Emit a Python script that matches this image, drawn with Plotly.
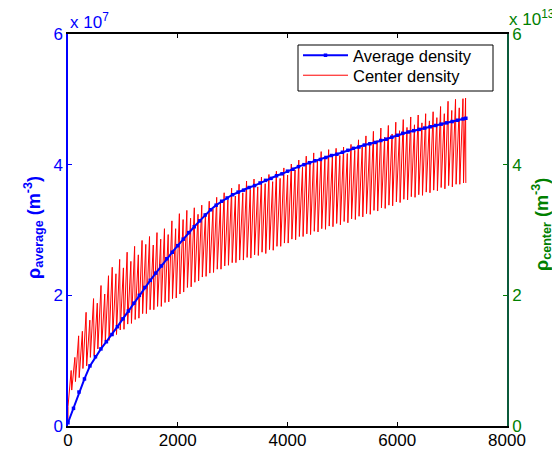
import numpy as np
import plotly.graph_objects as go

# ---------------- data ----------------
avg_t = [0, 100, 200, 300, 400, 500, 600, 700, 800, 900,
         1000, 1100, 1200, 1300, 1400, 1500, 1600, 1700, 1800, 1900,
         2000, 2100, 2200, 2300, 2400, 2500, 2600, 2700, 2800, 2900,
         3000, 3100, 3200, 3300, 3400, 3500, 3600, 3700, 3800, 3900,
         4000, 4100, 4200, 4300, 4400, 4500, 4600, 4700, 4800, 4900,
         5000, 5100, 5200, 5300, 5400, 5500, 5600, 5700, 5800, 5900,
         6000, 6100, 6200, 6300, 6400, 6500, 6600, 6700, 6800, 6900,
         7000, 7100, 7200, 7250]
avg_val = [0.05, 0.27, 0.52, 0.72, 0.92, 1.06, 1.18, 1.29, 1.40, 1.52,
           1.64, 1.76, 1.88, 2.00, 2.12, 2.23, 2.34, 2.45, 2.56, 2.66,
           2.76, 2.86, 2.96, 3.05, 3.14, 3.23, 3.31, 3.38, 3.44, 3.49,
           3.54, 3.58, 3.61, 3.65, 3.68, 3.72, 3.76, 3.79, 3.83, 3.86,
           3.90, 3.93, 3.97, 4.00, 4.03, 4.06, 4.08, 4.11, 4.14, 4.16,
           4.19, 4.22, 4.25, 4.27, 4.30, 4.32, 4.34, 4.37, 4.39, 4.42,
           4.45, 4.48, 4.50, 4.52, 4.54, 4.56, 4.58, 4.60, 4.62, 4.64,
           4.66, 4.68, 4.70, 4.71]          # x 1e7 m^-3

cycle_period = 68
center_peaks = [0.85, 1.05, 1.38, 1.45, 1.74, 1.62, 1.95, 1.88, 2.15, 2.02,
                2.30, 2.43, 2.33, 2.55, 2.42, 2.66, 2.52, 2.75, 2.62, 2.84,
                2.78, 2.90, 2.77, 2.96, 2.86, 3.02, 2.93, 3.14, 3.02, 3.25,
                3.16, 3.30, 3.18, 3.34, 3.24, 3.38, 3.26, 3.44, 3.32, 3.50,
                3.42, 3.57, 3.46, 3.64, 3.52, 3.70, 3.57, 3.75, 3.62, 3.78,
                3.66, 3.81, 3.71, 3.85, 3.74, 3.90, 3.79, 3.95, 3.84, 4.01,
                3.92, 4.07, 3.96, 4.13, 4.02, 4.18, 4.06, 4.20, 4.10, 4.23,
                4.12, 4.25, 4.14, 4.27, 4.17, 4.31, 4.22, 4.38, 4.27, 4.44,
                4.32, 4.51, 4.37, 4.56, 4.42, 4.60, 4.47, 4.65, 4.52, 4.69,
                4.57, 4.73, 4.61, 4.76, 4.64, 4.78, 4.67, 4.81, 4.72, 4.89,
                4.78, 4.97, 4.83, 5.00, 4.87, 5.01, 5.02]   # x 1e13 m^-3
center_troughs = [0.30, 0.55, 0.68, 0.74, 0.88, 0.92, 1.05, 1.08, 1.18, 1.20,
                  1.28, 1.31, 1.38, 1.40, 1.47, 1.48, 1.56, 1.57, 1.63, 1.65,
                  1.72, 1.72, 1.78, 1.78, 1.83, 1.83, 1.89, 1.90, 1.95, 1.96,
                  2.02, 2.05, 2.12, 2.13, 2.20, 2.22, 2.28, 2.29, 2.34, 2.35,
                  2.40, 2.40, 2.45, 2.46, 2.50, 2.50, 2.54, 2.54, 2.58, 2.57,
                  2.62, 2.61, 2.66, 2.64, 2.70, 2.69, 2.75, 2.75, 2.80, 2.80,
                  2.86, 2.85, 2.90, 2.90, 2.94, 2.93, 2.98, 2.97, 3.02, 3.01,
                  3.06, 3.05, 3.10, 3.08, 3.13, 3.11, 3.17, 3.16, 3.21, 3.20,
                  3.25, 3.24, 3.30, 3.29, 3.34, 3.33, 3.38, 3.37, 3.43, 3.42,
                  3.47, 3.46, 3.51, 3.50, 3.54, 3.53, 3.58, 3.57, 3.61, 3.60,
                  3.65, 3.63, 3.68, 3.66, 3.70, 3.70, 3.72]
center_end = (7250, 3.72)

x_ticks = [0, 2000, 4000, 6000, 8000]
y_ticks = [0, 2, 4, 6]

# ---------------- build series ----------------
avg_y = [v * 1e7 for v in avg_val]

cx, cy = [0], [0.05e13]
for i, (tr, pk) in enumerate(zip(center_troughs, center_peaks)):
    t0 = i * cycle_period
    cx += [t0, min(t0 + 0.85 * cycle_period, center_end[0] - 5)]
    cy += [tr * 1e13, pk * 1e13]
cx.append(center_end[0])
cy.append(center_end[1] * 1e13)

FONT = "Liberation Sans, Arial, sans-serif"
BLUE = "#0000ff"
GREEN = "#008000"
GREEN_LINE = "#0b5a3a"

# plot area in pixels: left 68, right 507, top 34, bottom 426
PL, PR, PT, PB = 68, 507, 34, 426
def px(xp):
    return (xp - PL) / (PR - PL)
def py(yp):
    return (PB - yp) / (PB - PT)

fig = go.Figure()
fig.add_trace(go.Scatter(
    x=cx, y=cy, mode="lines", name="Center density",
    line=dict(color="#ff0000", width=1), yaxis="y", legend="legend2"))
fig.add_trace(go.Scatter(
    x=avg_t, y=avg_y, mode="lines+markers", name="Average density",
    line=dict(color=BLUE, width=2), marker=dict(color=BLUE, size=3.5, symbol="square"),
    yaxis="y2", legend="legend"))

leg_common = dict(xanchor="left", yanchor="top", bgcolor="rgba(0,0,0,0)",
                  borderwidth=0, itemwidth=45, font=dict(size=16.5, color="black"))

fig.update_layout(
    width=552, height=450,
    margin=dict(l=PL, r=552 - PR, t=PT, b=450 - PB, autoexpand=False),
    paper_bgcolor="white", plot_bgcolor="white",
    font=dict(family=FONT, size=17, color="black"),
    showlegend=True,
    legend=dict(x=px(298), y=py(38), **leg_common),
    legend2=dict(x=px(298), y=py(58), **leg_common),
    xaxis=dict(range=[0, 8000], tickvals=x_ticks, ticktext=[str(v) for v in x_ticks],
               ticks="inside", ticklen=4, tickcolor="black", automargin=False,
               ticklabelstandoff=-2,
               showline=True, linecolor="black", linewidth=1.5, mirror="ticks",
               showgrid=False, zeroline=False, tickfont=dict(size=17, color="black")),
    yaxis=dict(range=[0, 6e13], side="right", automargin=False,
               tickvals=[v * 1e13 for v in y_ticks], ticktext=[str(v) for v in y_ticks],
               ticks="inside", ticklen=4, tickcolor=GREEN,
               showline=True, linecolor=GREEN_LINE, linewidth=1.5,
               showgrid=False, zeroline=False, tickfont=dict(size=17, color=GREEN)),
    yaxis2=dict(range=[0, 6e7], side="left", overlaying="y", automargin=False,
                tickvals=[v * 1e7 for v in y_ticks], ticktext=[str(v) for v in y_ticks],
                ticks="inside", ticklen=4, tickcolor=BLUE,
                showline=True, linecolor=BLUE, linewidth=1.5,
                showgrid=False, zeroline=False, tickfont=dict(size=17, color=BLUE)),
)

# legend box
fig.add_shape(type="rect", xref="paper", yref="paper",
              x0=px(298), x1=px(493), y0=py(91), y1=py(45),
              line=dict(color="black", width=1), fillcolor="white", layer="above")

fig.add_annotation(text="x 10<sup>7</sup>", xref="paper", yref="paper",
                   x=0.0, y=1.0, xanchor="left", yanchor="bottom", yshift=0,
                   showarrow=False, font=dict(size=17, color=BLUE))
fig.add_annotation(text="x 10<sup>13</sup>", xref="paper", yref="paper",
                   x=1.0, y=1.0, xanchor="left", yanchor="bottom", yshift=3,
                   showarrow=False, font=dict(size=17, color=GREEN))
fig.add_annotation(text="<b>ρ<sub>average</sub> (m<sup>-3</sup>)</b>",
                   xref="paper", yref="paper", x=px(33), y=py(228),
                   xanchor="center", yanchor="middle", textangle=-90,
                   showarrow=False, font=dict(size=18, color=BLUE))
fig.add_annotation(text="<b>ρ<sub>center</sub> (m<sup>-3</sup>)</b>",
                   xref="paper", yref="paper", x=px(541), y=py(225),
                   xanchor="center", yanchor="middle", textangle=-90,
                   showarrow=False, font=dict(size=18, color=GREEN))

fig.write_html("out.html")
